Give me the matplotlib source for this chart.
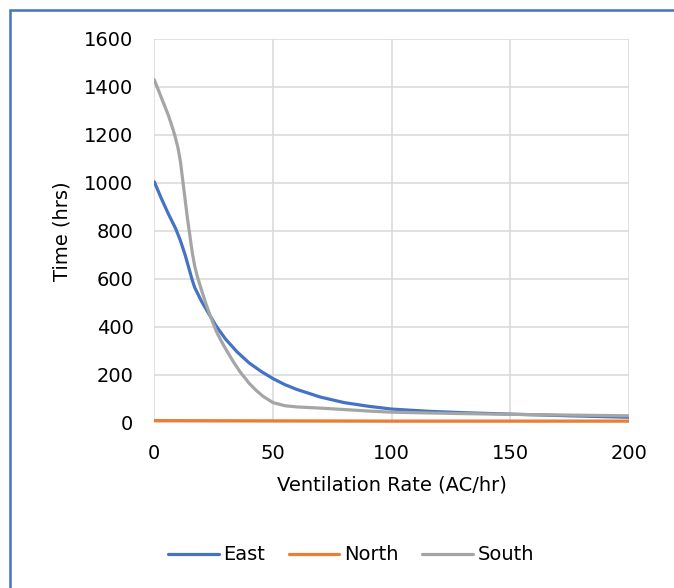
import matplotlib.pyplot as plt
from matplotlib.patches import Rectangle

plt.rcParams["font.family"] = ["DejaVu Sans"]

# values (Time in hrs vs ventilation rate)
east_x = [0, 3, 6, 9, 11, 13, 15, 16, 17, 18, 20, 23, 26, 30, 35, 40, 45, 50, 55, 60, 70,
          80, 90, 100, 115, 130, 150, 175, 200]
east_y = [1005, 935, 870, 810, 760, 700, 630, 595, 565, 545, 505, 455, 405, 350, 295, 250,
          215, 185, 160, 140, 108, 85, 70, 58, 49, 43, 37, 30, 24]

north_x = [0, 50, 100, 150, 200]
north_y = [10, 9, 8, 8, 8]

south_x = [0, 2, 4, 6, 8, 9, 10, 11, 12, 13, 14, 15, 16, 17, 18, 20, 22, 24, 26, 28, 30,
           33, 36, 40, 43, 46, 50, 55, 60, 70, 80, 90, 100, 125, 150, 175, 200]
south_y = [1430, 1380, 1330, 1280, 1220, 1185, 1145, 1090, 1010, 930, 850, 780, 710, 655,
           615, 550, 490, 435, 385, 345, 310, 260, 215, 165, 135, 110, 85, 72, 67, 62, 56,
           50, 45, 40, 36, 33, 30]

x_ticks = [0, 50, 100, 150, 200]
y_ticks = [0, 200, 400, 600, 800, 1000, 1200, 1400, 1600]

W, H = 674, 588
fig = plt.figure(figsize=(W / 100, H / 100), dpi=100)
ax = fig.add_axes([154.3 / W, 1 - 423 / H, (629 - 154.3) / W, (423 - 39) / H])

ax.plot(east_x, east_y, color="#4472C4", lw=2.3, label="East", solid_capstyle="round",
        solid_joinstyle="round", zorder=3)
ax.plot(north_x, north_y, color="#ED7D31", lw=2.3, label="North", solid_capstyle="round", zorder=3)
ax.plot(south_x, south_y, color="#A5A5A5", lw=2.3, label="South", solid_capstyle="round",
        solid_joinstyle="round", zorder=3)

ax.set_xlim(0, 200)
ax.set_ylim(0, 1600)
ax.set_xticks(x_ticks)
ax.set_yticks(y_ticks)
ax.grid(True, color="#D9D9D9", lw=1.1)
ax.set_axisbelow(True)
for s in ax.spines.values():
    s.set_visible(False)
ax.tick_params(length=0, labelsize=14, pad=15)
ax.set_xlabel("Ventilation Rate (AC/hr)", fontsize=14, labelpad=9)
ax.set_ylabel("Time (hrs)", fontsize=14, labelpad=9)

fig.legend(loc="center", bbox_to_anchor=(351 / W, 1 - 555 / H), ncol=3, frameon=False,
           fontsize=14, handlelength=2.6, handletextpad=0.25, columnspacing=1.2)

# chart-area border, only top and left edges fall inside the image
fig.patches.append(Rectangle((10 / W, -0.05), 1.1, 1 - 9.5 / H + 0.05, transform=fig.transFigure,
                             fill=False, edgecolor="#4472C4", lw=1.8))

fig.savefig("out.png", dpi=100)
